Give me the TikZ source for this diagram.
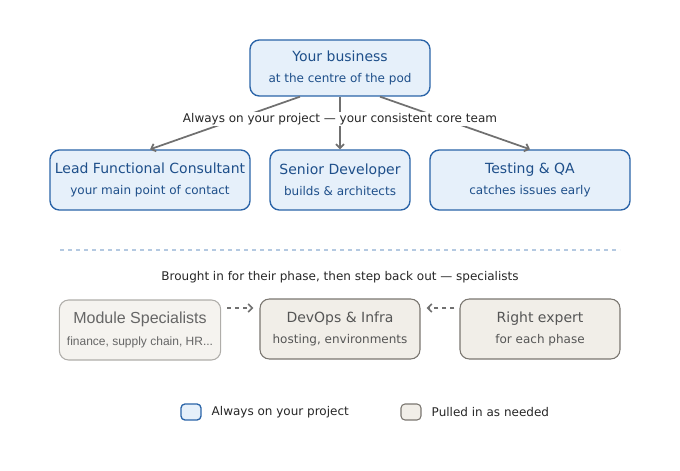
\documentclass[tikz,border=0pt]{standalone}
\usepackage{fontspec}
\setmainfont{DejaVu Sans}
\newfontfamily\arialish{Liberation Sans}
\usetikzlibrary{arrows.meta,calc}
\definecolor{bfill}{HTML}{E6F0FA}
\definecolor{bdraw}{HTML}{2A64A8}
\definecolor{btxt}{HTML}{1E4F8A}
\definecolor{gfill}{HTML}{F1EEE8}
\definecolor{gdraw}{HTML}{7A7670}
\definecolor{gtxt}{HTML}{555555}
\definecolor{arr}{HTML}{707070}
\newcommand\mysubt{\fontsize{9}{12}\selectfont}
\tikzset{
 core/.style={draw=bdraw,fill=bfill,rounded corners=7pt,line width=1pt,align=center,text=btxt,font=\fontsize{10.5}{15}\selectfont},
 spec/.style={draw=gdraw,fill=gfill,rounded corners=7pt,line width=0.8pt,align=center,text=gtxt,font=\fontsize{10.5}{15}\selectfont},
 link/.style={draw=arr,line width=1.3pt,-{Straight Barb[length=3pt]}},
 dlink/.style={draw=arr,line width=1.3pt,dash pattern=on 3pt off 3pt,-{Straight Barb[length=3pt]}},
 lbl/.style={text=black!85,font=\fontsize{9}{11}\selectfont},
}
\begin{document}
\begin{tikzpicture}[x=0.75pt,y=-0.75pt]
\useasboundingbox (0,0) rectangle (680,470);
\node[core,minimum width=135pt,minimum height=42pt] (top) at (340,68) {Your business\\[1pt]{\mysubt at the centre of the pod}};
\node[core,minimum width=150pt,minimum height=45pt] (lead) at (150,180) {Lead Functional Consultant\\[1pt]{\mysubt your main point of contact}};
\node[core,minimum width=105pt,minimum height=45pt] (sen) at (340,180) {Senior Developer\\[1pt]{\mysubt builds \& architects}};
\node[core,minimum width=150pt,minimum height=45pt] (qa) at (530,180) {Testing \& QA\\[1pt]{\mysubt catches issues early}};
\draw[link] ($(top.south)+(-40,0)$) -- (lead.north);
\draw[link] (top.south) -- (sen.north);
\draw[link] ($(top.south)+(40,0)$) -- (qa.north);
\node[lbl,fill=white,inner sep=1pt] (al) at (340,119) {Always on your project — your consistent core team};
\coordinate (d1) at (60,250); \coordinate (d2) at (620,250);
\draw[draw=bdraw!35,line width=0.8pt,dash pattern=on 3pt off 3pt] (d1) -- (d2);
\node[lbl] (br) at (340,277) {Brought in for their phase, then step back out — specialists};
\node[spec,minimum width=121pt,minimum height=45pt,inner xsep=2pt,draw=gdraw!60,fill=gfill!70,text=gtxt!90,font=\arialish\fontsize{12}{15}\selectfont] (mod) at (140,330) {Module Specialists\\[1pt]{\fontsize{9}{12}\selectfont finance, supply chain, HR...}};
\node[spec,minimum width=120pt,minimum height=45pt] (dev) at (340,329) {DevOps \& Infra\\[1pt]{\mysubt hosting, environments}};
\node[spec,minimum width=120pt,minimum height=45pt] (rig) at (540,329) {Right expert\\[1pt]{\mysubt for each phase}};
\draw[dlink] ($(mod.east)+(6,-22)$) -- ($(dev.west)+(-6,-21)$);
\draw[dlink] ($(rig.west)+(-5,-21)$) -- ($(dev.east)+(6,-21)$);
\node[draw=bdraw,fill=bfill,rounded corners=3pt,line width=1pt,minimum width=15pt,minimum height=12pt] (lg1) at (191,412) {};
\node[lbl,anchor=west] (lt1) at (207,412) {Always on your project};
\node[draw=gdraw,fill=gfill,rounded corners=3pt,line width=0.8pt,minimum width=15pt,minimum height=12pt] (lg2) at (411,412) {};
\node[lbl,anchor=west] (lt2) at (427,412) {Pulled in as needed};
\end{tikzpicture}
\end{document}
